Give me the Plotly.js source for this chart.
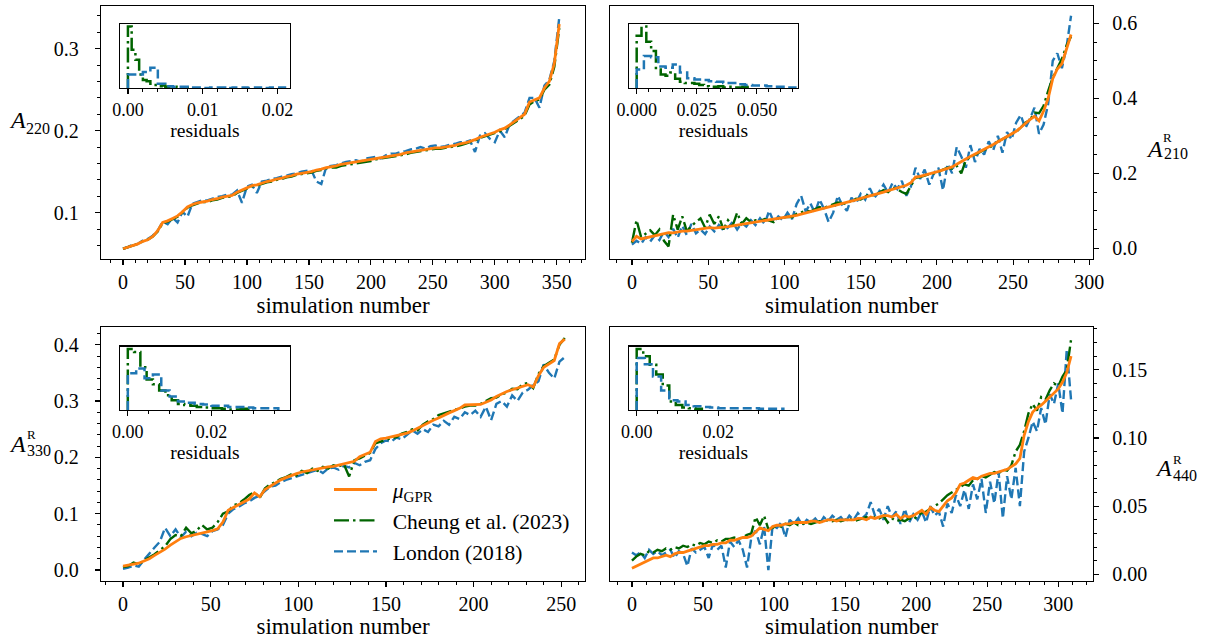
<!DOCTYPE html>
<html><head><meta charset="utf-8">
<script src="https://cdn.plot.ly/plotly-3.0.1.min.js"></script>
<style>html,body{margin:0;padding:0;background:#fff;}#chart{width:1205px;height:639px;}</style>
</head><body><div id="chart"></div>
<script>
// ---------- Panel 1: A_220 (simulation number 0,4,...,352) ----------
const a220_mu = [0.056,0.058,0.060,0.062,0.065,0.067,0.071,0.078,0.088,0.090,0.093,0.096,0.101,0.107,0.110,0.112,0.113,0.114,0.116,0.117,0.119,0.120,0.121,0.125,0.128,0.131,0.133,0.134,0.136,0.138,0.139,0.141,0.142,0.144,0.145,0.147,0.148,0.149,0.150,0.152,0.153,0.155,0.156,0.157,0.159,0.160,0.161,0.162,0.163,0.164,0.165,0.166,0.167,0.168,0.169,0.170,0.171,0.173,0.174,0.175,0.176,0.177,0.178,0.179,0.179,0.180,0.181,0.182,0.184,0.185,0.187,0.189,0.192,0.194,0.196,0.198,0.201,0.203,0.207,0.211,0.215,0.220,0.235,0.238,0.240,0.252,0.260,0.282,0.330];
const a220_london = [0.056,0.058,0.061,0.062,0.066,0.068,0.072,0.078,0.089,0.086,0.094,0.088,0.101,0.095,0.111,0.113,0.115,0.115,0.117,0.119,0.120,0.122,0.122,0.127,0.112,0.132,0.134,0.124,0.138,0.139,0.141,0.142,0.144,0.145,0.147,0.148,0.150,0.151,0.152,0.138,0.135,0.156,0.157,0.158,0.160,0.162,0.163,0.164,0.162,0.166,0.167,0.168,0.166,0.170,0.172,0.172,0.174,0.175,0.177,0.178,0.180,0.178,0.181,0.182,0.180,0.181,0.183,0.184,0.186,0.186,0.188,0.174,0.194,0.197,0.190,0.186,0.200,0.192,0.208,0.213,0.217,0.222,0.240,0.240,0.228,0.255,0.262,0.285,0.338];
const a220_cheung = [0.056,0.058,0.060,0.062,0.065,0.067,0.071,0.077,0.087,0.089,0.092,0.095,0.100,0.106,0.109,0.111,0.113,0.113,0.115,0.116,0.118,0.119,0.120,0.124,0.127,0.130,0.132,0.133,0.135,0.137,0.138,0.140,0.141,0.143,0.144,0.146,0.147,0.148,0.149,0.151,0.152,0.154,0.155,0.155,0.157,0.158,0.159,0.160,0.161,0.162,0.163,0.165,0.166,0.167,0.168,0.169,0.170,0.171,0.173,0.174,0.175,0.176,0.177,0.178,0.178,0.179,0.180,0.181,0.182,0.184,0.186,0.188,0.191,0.193,0.195,0.197,0.199,0.202,0.206,0.209,0.213,0.218,0.232,0.236,0.238,0.250,0.256,0.278,0.325];

// ---------- Panel 2: A^R_210 (simulation number 0,3,...,288) ----------
const a210_mu = [0.018,0.032,0.025,0.028,0.031,0.034,0.037,0.040,0.042,0.041,0.044,0.046,0.046,0.048,0.049,0.052,0.053,0.055,0.054,0.055,0.056,0.058,0.060,0.062,0.064,0.065,0.067,0.069,0.070,0.072,0.074,0.076,0.078,0.080,0.082,0.085,0.088,0.091,0.094,0.097,0.100,0.104,0.107,0.110,0.112,0.115,0.118,0.121,0.125,0.129,0.133,0.136,0.140,0.144,0.147,0.150,0.154,0.157,0.160,0.164,0.168,0.175,0.190,0.192,0.196,0.199,0.202,0.205,0.209,0.212,0.217,0.224,0.230,0.238,0.245,0.251,0.257,0.263,0.270,0.277,0.284,0.291,0.298,0.305,0.312,0.322,0.333,0.343,0.352,0.340,0.366,0.400,0.452,0.478,0.492,0.530,0.570];
const a210_london = [0.010,0.020,0.012,0.030,0.018,0.035,0.022,0.045,0.030,0.052,0.028,0.060,0.035,0.065,0.040,0.050,0.038,0.058,0.045,0.062,0.048,0.055,0.070,0.050,0.068,0.058,0.075,0.062,0.080,0.065,0.100,0.070,0.085,0.075,0.095,0.078,0.118,0.140,0.098,0.120,0.095,0.130,0.105,0.070,0.095,0.140,0.115,0.100,0.135,0.120,0.145,0.130,0.160,0.135,0.150,0.170,0.148,0.175,0.158,0.180,0.140,0.165,0.215,0.185,0.210,0.170,0.200,0.215,0.155,0.225,0.200,0.270,0.245,0.215,0.275,0.230,0.265,0.250,0.285,0.262,0.300,0.255,0.310,0.290,0.335,0.355,0.320,0.345,0.375,0.305,0.330,0.385,0.500,0.520,0.480,0.535,0.620];
const a210_cheung = [0.015,0.075,0.030,0.040,0.048,0.035,0.050,0.020,0.005,0.090,0.050,0.085,0.045,0.060,0.070,0.080,0.055,0.090,0.065,0.085,0.050,0.075,0.060,0.095,0.065,0.080,0.070,0.075,0.072,0.078,0.074,0.070,0.080,0.082,0.084,0.083,0.092,0.096,0.100,0.098,0.105,0.110,0.108,0.112,0.118,0.122,0.120,0.118,0.128,0.132,0.130,0.138,0.145,0.140,0.148,0.155,0.150,0.162,0.158,0.150,0.145,0.165,0.188,0.190,0.195,0.198,0.200,0.203,0.210,0.215,0.212,0.220,0.200,0.235,0.243,0.250,0.255,0.262,0.268,0.275,0.285,0.290,0.297,0.305,0.310,0.322,0.335,0.342,0.362,0.360,0.380,0.420,0.455,0.480,0.505,0.540,0.565];

// ---------- Panel 3: A^R_330 (simulation number 0,3,...,252) ----------
const a330_mu = [0.007,0.009,0.011,0.012,0.016,0.020,0.026,0.031,0.037,0.044,0.050,0.056,0.059,0.061,0.064,0.066,0.068,0.070,0.073,0.085,0.106,0.111,0.116,0.120,0.126,0.137,0.130,0.143,0.149,0.155,0.160,0.164,0.168,0.171,0.174,0.176,0.178,0.180,0.181,0.183,0.184,0.186,0.188,0.190,0.193,0.201,0.205,0.209,0.228,0.233,0.234,0.236,0.238,0.240,0.243,0.247,0.252,0.257,0.262,0.266,0.270,0.275,0.279,0.283,0.287,0.293,0.293,0.293,0.294,0.298,0.302,0.308,0.313,0.317,0.320,0.323,0.327,0.329,0.325,0.345,0.360,0.366,0.372,0.402,0.410];
const a330_london = [0.002,0.004,0.008,0.006,0.018,0.030,0.040,0.050,0.075,0.060,0.072,0.058,0.068,0.060,0.066,0.064,0.060,0.069,0.072,0.080,0.100,0.108,0.112,0.118,0.122,0.128,0.132,0.140,0.148,0.150,0.156,0.160,0.163,0.166,0.170,0.172,0.175,0.178,0.172,0.180,0.182,0.178,0.185,0.182,0.190,0.186,0.192,0.195,0.215,0.225,0.230,0.228,0.235,0.232,0.240,0.248,0.242,0.250,0.245,0.258,0.255,0.265,0.258,0.272,0.268,0.280,0.275,0.283,0.272,0.290,0.266,0.295,0.300,0.290,0.310,0.300,0.315,0.320,0.328,0.335,0.365,0.350,0.340,0.370,0.378];
const a330_cheung = [0.005,0.007,0.013,0.010,0.017,0.022,0.028,0.035,0.042,0.055,0.062,0.060,0.075,0.065,0.070,0.080,0.072,0.075,0.085,0.100,0.104,0.115,0.118,0.125,0.133,0.138,0.128,0.145,0.152,0.156,0.162,0.165,0.170,0.168,0.176,0.172,0.180,0.176,0.183,0.180,0.186,0.184,0.188,0.166,0.195,0.198,0.203,0.208,0.225,0.228,0.232,0.234,0.236,0.242,0.245,0.250,0.248,0.258,0.264,0.268,0.275,0.278,0.282,0.285,0.288,0.290,0.292,0.292,0.295,0.300,0.305,0.306,0.312,0.315,0.322,0.321,0.330,0.332,0.323,0.348,0.362,0.368,0.374,0.400,0.412];

// ---------- Panel 4: A^R_440 (simulation number 0,3,...,309) ----------
const a440_mu = [0.0045,0.006,0.008,0.009,0.011,0.012,0.012,0.013,0.014,0.013,0.015,0.016,0.016,0.017,0.018,0.019,0.020,0.021,0.021,0.022,0.022,0.023,0.023,0.025,0.025,0.026,0.027,0.027,0.028,0.031,0.034,0.033,0.032,0.035,0.036,0.036,0.037,0.037,0.038,0.038,0.038,0.038,0.039,0.039,0.038,0.039,0.040,0.040,0.039,0.040,0.040,0.040,0.040,0.041,0.041,0.040,0.042,0.041,0.042,0.043,0.043,0.042,0.044,0.041,0.043,0.042,0.043,0.045,0.047,0.044,0.049,0.047,0.046,0.050,0.054,0.056,0.060,0.066,0.067,0.069,0.071,0.070,0.072,0.073,0.074,0.074,0.075,0.076,0.077,0.079,0.081,0.085,0.102,0.112,0.119,0.122,0.124,0.127,0.130,0.133,0.136,0.141,0.148,0.160];
const a440_london = [0.016,0.014,0.016,0.012,0.018,0.015,0.017,0.014,0.016,0.018,0.012,0.017,0.015,0.006,0.019,0.016,0.018,0.020,0.012,0.022,0.018,0.021,0.005,0.024,0.020,0.025,0.018,0.005,0.027,0.032,0.022,0.035,0.003,0.036,0.034,0.038,0.027,0.040,0.037,0.041,0.036,0.040,0.038,0.041,0.037,0.042,0.039,0.043,0.040,0.042,0.038,0.043,0.040,0.045,0.041,0.044,0.053,0.043,0.048,0.040,0.050,0.042,0.046,0.037,0.048,0.038,0.044,0.040,0.046,0.038,0.050,0.043,0.046,0.035,0.052,0.045,0.058,0.050,0.062,0.048,0.066,0.055,0.070,0.045,0.068,0.052,0.075,0.041,0.072,0.055,0.078,0.050,0.090,0.100,0.112,0.105,0.122,0.110,0.132,0.125,0.140,0.118,0.165,0.128];
const a440_cheung = [0.010,0.013,0.015,0.014,0.017,0.016,0.018,0.017,0.019,0.018,0.020,0.019,0.021,0.020,0.022,0.021,0.023,0.022,0.024,0.023,0.025,0.024,0.026,0.026,0.027,0.026,0.027,0.029,0.030,0.042,0.036,0.043,0.033,0.034,0.036,0.035,0.037,0.036,0.038,0.036,0.037,0.038,0.037,0.038,0.039,0.038,0.040,0.039,0.040,0.039,0.040,0.041,0.039,0.040,0.041,0.042,0.040,0.042,0.041,0.043,0.038,0.041,0.039,0.040,0.039,0.041,0.040,0.043,0.045,0.046,0.048,0.050,0.052,0.055,0.058,0.060,0.062,0.064,0.066,0.065,0.069,0.070,0.072,0.071,0.073,0.075,0.074,0.077,0.076,0.080,0.090,0.095,0.105,0.118,0.125,0.120,0.130,0.128,0.135,0.140,0.138,0.145,0.150,0.172];

// ---------- Residual histograms (bin edges and counts) ----------
const h220_cheung_edges = [0,0.0005,0.001,0.0015,0.002,0.0025,0.003,0.0035,0.004,0.0045,0.005,0.0055,0.006,0.0065,0.007,0.0075,0.008];
const h220_cheung_counts = [100,62,46,22,13,11,7,5,3,4,2,3,2,1,1,1];
const h220_london_edges = [0,0.001,0.002,0.003,0.004,0.005,0.006,0.007,0.008,0.009,0.010,0.011,0.012,0.013,0.014,0.015,0.016,0.017,0.018,0.019,0.020,0.021];
const h220_london_counts = [22,22,26,33,7,3,2,2,1,1,0,1,1,0,1,1,0,1,0,1,1];

const h210_cheung_edges = [0,0.002,0.004,0.006,0.008,0.010,0.012,0.014,0.016,0.018,0.020,0.022,0.024,0.026,0.028,0.030,0.032,0.034,0.036,0.038,0.040,0.042,0.044,0.046,0.048];
const h210_cheung_counts = [85,100,75,60,30,22,20,25,15,10,8,8,7,5,3,2,2,3,1,2,1,1,2,1];
const h210_london_edges = [0,0.003,0.006,0.009,0.012,0.015,0.018,0.021,0.024,0.027,0.030,0.033,0.036,0.039,0.042,0.045,0.048,0.051,0.054,0.057,0.060,0.063,0.066];
const h210_london_counts = [30,52,50,35,33,38,25,16,14,13,11,10,8,8,6,5,4,4,3,2,2,1];

const h330_cheung_edges = [0,0.0015,0.003,0.0045,0.006,0.0075,0.009,0.0105,0.012,0.0135,0.015,0.0165,0.018,0.0195,0.021,0.0225,0.024,0.0255,0.027,0.0285,0.030];
const h330_cheung_counts = [100,95,70,50,42,32,24,16,10,8,7,5,4,3,3,2,1,1,2,1];
const h330_london_edges = [0,0.002,0.004,0.006,0.008,0.010,0.012,0.014,0.016,0.018,0.020,0.022,0.024,0.026,0.028,0.030,0.032,0.034,0.036];
const h330_london_counts = [60,68,52,58,32,22,14,12,10,9,7,7,5,5,4,3,3,3];

const h440_cheung_edges = [0,0.0016,0.0032,0.0048,0.0064,0.008,0.0096,0.0112,0.0128,0.0144,0.016];
const h440_cheung_counts = [100,88,74,58,40,14,8,4,3,2];
const h440_london_edges = [0,0.002,0.004,0.006,0.008,0.010,0.012,0.014,0.016,0.018,0.020,0.022,0.024,0.026,0.028,0.030,0.032,0.034,0.036];
const h440_london_counts = [85,75,55,32,16,14,8,6,5,4,3,3,3,3,3,2,2,2];

// ---------- Text ----------
const xLabel = 'simulation number';
const insetLabel = 'residuals';
const seriesNames = ['<i>μ</i><sub>GPR</sub>', 'Cheung et al. (2023)', 'London (2018)'];
const legendPad = '\u00a0\u00a0';

// ---------- Styles ----------
const C_MU = '#ff7f0e', C_CH = '#006400', C_LO = '#1f77b4';
const DASH_LO = '9px,4px', DASH_CH = '15px,4px,2.5px,4px';
const FONT = 'Liberation Serif';

const W = 1205, H = 639;
const px = v => v / W, py = v => 1 - v / H;

const traces = [];
function addPanel(ax, ay, step, mu, ch, lo, legend) {
  traces.push({type:'scatter', mode:'lines', x0:0, dx:step, y:lo, xaxis:ax, yaxis:ay,
    line:{color:C_LO, width:2.4, dash:DASH_LO}, name:legendPad + seriesNames[2], legendrank:3, showlegend:legend});
  traces.push({type:'scatter', mode:'lines', x0:0, dx:step, y:ch, xaxis:ax, yaxis:ay,
    line:{color:C_CH, width:2.4, dash:DASH_CH}, name:legendPad + seriesNames[1], legendrank:2, showlegend:legend});
  traces.push({type:'scatter', mode:'lines', x0:0, dx:step, y:mu, xaxis:ax, yaxis:ay,
    line:{color:C_MU, width:2.8}, name:legendPad + seriesNames[0], legendrank:1, showlegend:legend});
}
addPanel('x','y',4,a220_mu,a220_cheung,a220_london,false);
addPanel('x2','y2',3,a210_mu,a210_cheung,a210_london,false);
addPanel('x3','y3',3,a330_mu,a330_cheung,a330_london,true);
addPanel('x4','y4',3,a440_mu,a440_cheung,a440_london,false);

function stepTrace(edges, counts, ax, ay, color, dash) {
  const xs = [edges[0]], ys = [0];
  for (let i = 0; i < counts.length; i++) { xs.push(edges[i]); ys.push(counts[i]); }
  xs.push(edges[counts.length]); ys.push(0);
  return {type:'scatter', mode:'lines', x:xs, y:ys, xaxis:ax, yaxis:ay, showlegend:false,
    line:{color:color, width:2.5, dash:dash, shape:'hv'}};
}
traces.push(stepTrace(h220_cheung_edges,h220_cheung_counts,'x5','y5',C_CH,DASH_CH));
traces.push(stepTrace(h220_london_edges,h220_london_counts,'x5','y5',C_LO,DASH_LO));
traces.push(stepTrace(h210_cheung_edges,h210_cheung_counts,'x6','y6',C_CH,DASH_CH));
traces.push(stepTrace(h210_london_edges,h210_london_counts,'x6','y6',C_LO,DASH_LO));
traces.push(stepTrace(h330_cheung_edges,h330_cheung_counts,'x7','y7',C_CH,DASH_CH));
traces.push(stepTrace(h330_london_edges,h330_london_counts,'x7','y7',C_LO,DASH_LO));
traces.push(stepTrace(h440_cheung_edges,h440_cheung_counts,'x8','y8',C_CH,DASH_CH));
traces.push(stepTrace(h440_london_edges,h440_london_counts,'x8','y8',C_LO,DASH_LO));

function ax(o) {
  return Object.assign({showline:true, linecolor:'black', linewidth:1.2, mirror:true,
    ticks:'outside', ticklen:5, tickwidth:1.2, tickcolor:'black', showgrid:false, zeroline:false,
    tickfont:{size:20, family:FONT, color:'black'}, fixedrange:true}, o);
}
function minor(d) { return {dtick:d, ticks:'outside', ticklen:3, tickwidth:1, tickcolor:'black', showgrid:false}; }
const xTitle = {text:xLabel, font:{size:23, family:FONT, color:'black'}, standoff:4};
const rTitle = {text:insetLabel, font:{size:19.5, family:FONT, color:'black'}, standoff:3};
const insetTick = {size:18, family:FONT, color:'black'};

const X_L = [px(101), px(585)], X_R = [px(610), px(1093)];
const Y_T = [py(259), py(6)], Y_B = [py(581), py(327)];
const IX_L = [px(120), px(290)], IX_R = [px(629), px(798)];
const IY_T = [py(88), py(24)], IY_B = [py(410), py(346.5)];

const insetY = (anchor, dom) => ({domain:dom, anchor:anchor, range:[0,104], showline:true, mirror:true,
  linecolor:'black', linewidth:1.2, showticklabels:false, ticks:'', showgrid:false, zeroline:false, fixedrange:true});

const layout = {
  width:W, height:H, margin:{l:0,r:0,t:0,b:0}, paper_bgcolor:'white', plot_bgcolor:'white',
  font:{family:FONT, color:'black', size:20},
  showlegend:true,
  legend:{x:px(329), y:py(469), xanchor:'left', yanchor:'top', bgcolor:'rgba(0,0,0,0)',
    font:{size:21.5, family:FONT, color:'black'}, traceorder:'normal', itemwidth:43},
  xaxis: ax({domain:X_L, anchor:'y', range:[-17.75,372.75], dtick:50, minor:minor(10), title:xTitle}),
  yaxis: ax({domain:Y_T, anchor:'x', range:[0.0435,0.352], dtick:0.1, tick0:0, tickformat:'.1f', minor:minor(0.02), ticklabelstandoff:12}),
  xaxis2: ax({domain:X_R, anchor:'y2', range:[-14.4,302.4], dtick:50, minor:minor(10), title:xTitle}),
  yaxis2: ax({domain:Y_T, anchor:'x2', side:'right', range:[-0.0285,0.646], dtick:0.2, tick0:0, tickformat:'.1f', minor:minor(0.05), ticklabelstandoff:9}),
  xaxis3: ax({domain:X_L, anchor:'y3', range:[-12.55,263.55], dtick:50, minor:minor(10), title:xTitle}),
  yaxis3: ax({domain:Y_B, anchor:'x3', range:[-0.0196,0.4315], dtick:0.1, tick0:0, tickformat:'.1f', minor:minor(0.02), ticklabelstandoff:12}),
  xaxis4: ax({domain:X_R, anchor:'y4', range:[-15.45,324.45], dtick:50, minor:minor(10), title:xTitle}),
  yaxis4: ax({domain:Y_B, anchor:'x4', side:'right', range:[-0.0049,0.1814], dtick:0.05, tick0:0, tickformat:'.2f', minor:minor(0.01), ticklabelstandoff:9}),
  xaxis5: ax({domain:IX_L, anchor:'y5', range:[-0.00106,0.02167], dtick:0.01, tick0:0, tickformat:'.2f', minor:minor(0.002), tickfont:insetTick, title:rTitle}),
  yaxis5: insetY('x5', IY_T),
  xaxis6: ax({domain:IX_R, anchor:'y6', range:[-0.0032,0.0671], dtick:0.025, tick0:0, tickformat:'.3f', minor:minor(0.005), tickfont:insetTick, title:rTitle}),
  yaxis6: insetY('x6', IY_T),
  xaxis7: ax({domain:IX_L, anchor:'y7', range:[-0.00187,0.0388], dtick:0.02, tick0:0, tickformat:'.2f', minor:minor(0.005), tickfont:insetTick, title:rTitle}),
  yaxis7: insetY('x7', IY_B),
  xaxis8: ax({domain:IX_R, anchor:'y8', range:[-0.00189,0.0396], dtick:0.02, tick0:0, tickformat:'.2f', minor:minor(0.005), tickfont:insetTick, title:rTitle}),
  yaxis8: insetY('x8', IY_B),
  annotations: []
};

function lab(text, x, y, size) {
  layout.annotations.push({text:text, x:px(x), y:py(y), xref:'paper', yref:'paper', xanchor:'center', yanchor:'middle',
    showarrow:false, borderpad:0, font:{size:size, family:FONT, color:'black'}});
}
// y-axis labels: italic A with sub/superscripts (superscript kept clear of subscript)
lab('<i>A</i>', 17, 120, 24); lab('220', 37.5, 128, 16);
lab('<i>A</i>', 1154, 149, 24); lab('R', 1167.5, 137, 13); lab('210', 1176, 153.5, 16);
lab('<i>A</i>', 17, 444, 24); lab('R', 31, 434, 13); lab('330', 38.5, 450.5, 16);
lab('<i>A</i>', 1163.5, 467.5, 24); lab('R', 1177.5, 459, 13); lab('440', 1185, 475.5, 16);

Plotly.newPlot('chart', traces, layout, {displayModeBar:false, staticPlot:true});
</script>
</body></html>
